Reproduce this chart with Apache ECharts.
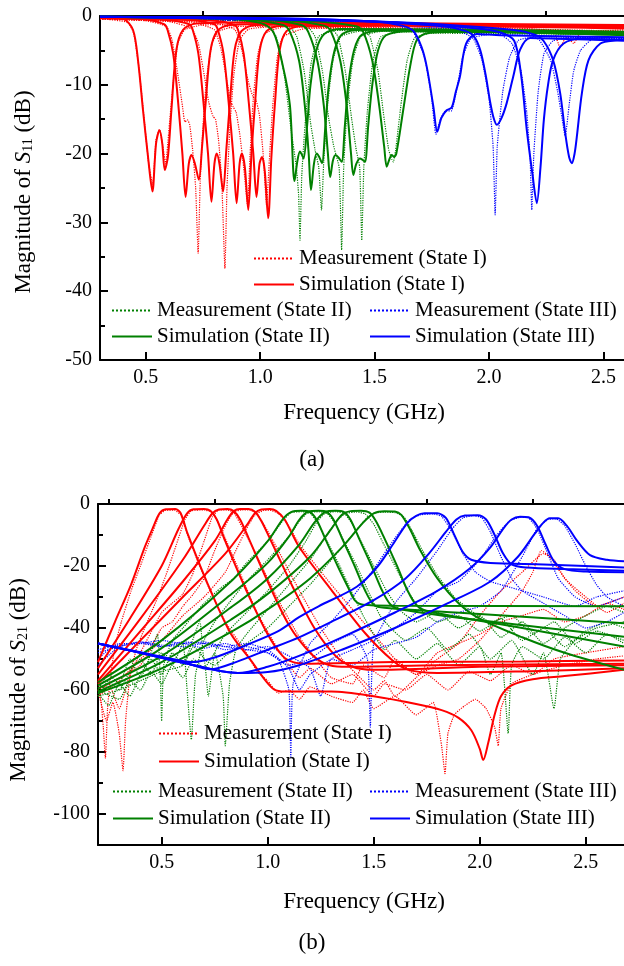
<!DOCTYPE html>
<html><head><meta charset="utf-8">
<script src="https://cdn.jsdelivr.net/npm/echarts@6/dist/echarts.min.js"></script>
<style>html,body{margin:0;padding:0;background:#fff;overflow:hidden}#c{width:624px;height:966px}</style>
</head><body><div id="c"></div>
<script>
// ---------- tick labels ----------
const xTicksTop = [0.5, 1.0, 1.5, 2.0, 2.5];
const xMinorTop = [0.75, 1.25, 1.75, 2.25];
const xTicksBot = [0.5, 1.0, 1.5, 2.0, 2.5];
const xMinorBot = [0.25, 0.75, 1.25, 1.75, 2.25];
const yTicksBot = [-100, -80, -60, -40, -20, 0];
const yMinorBot = [-90, -70, -50, -30, -10];

// ---------- (a) |S11| ----------
const s11SimI = [
 [[0.3,-0.2],[0.4,-0.4],[0.444,-2],[0.466,-6.4],[0.488,-13.7],[0.51,-20.5],[0.529,-25.5],[0.545,-18.5],[0.56,-16.6],[0.572,-18.5],[0.583,-22.4],[0.597,-20.4],[0.612,-13.7],[0.634,-4.9],[0.663,-2],[0.72,-1.1],[1.0,-0.9],[1.8,-1.1],[2.59,-1.3]],
 [[0.3,-0.3],[0.5,-0.5],[0.58,-1.2],[0.595,-2],[0.62,-5.5],[0.64,-12],[0.66,-20],[0.674,-26.3],[0.688,-21.5],[0.7,-20.2],[0.715,-21.5],[0.732,-23.8],[0.746,-19],[0.762,-12.5],[0.783,-5],[0.812,-2.2],[0.87,-1.3],[1.3,-1.1],[2.59,-1.5]],
 [[0.3,-0.3],[0.6,-0.6],[0.69,-1.2],[0.705,-2],[0.73,-5.5],[0.752,-12.5],[0.772,-20],[0.787,-27],[0.8,-21.5],[0.81,-20],[0.822,-21.5],[0.838,-25.5],[0.852,-19.5],[0.868,-12.5],[0.888,-5],[0.918,-2.2],[0.98,-1.3],[1.4,-1.2],[2.59,-1.6]],
 [[0.3,-0.3],[0.7,-0.6],[0.8,-1.2],[0.815,-2],[0.84,-5.5],[0.862,-12.5],[0.882,-20],[0.897,-27.2],[0.91,-21.5],[0.92,-20],[0.933,-22],[0.948,-28.2],[0.962,-20],[0.978,-12.5],[0.998,-5],[1.028,-2.2],[1.09,-1.4],[1.5,-1.3],[2.59,-1.7]],
 [[0.3,-0.3],[0.8,-0.7],[0.888,-1.3],[0.903,-2],[0.928,-5.5],[0.95,-12.5],[0.97,-20],[0.984,-26.3],[0.997,-21.5],[1.008,-20.5],[1.02,-22.5],[1.035,-29.4],[1.049,-20.5],[1.065,-12.5],[1.085,-5],[1.115,-2.2],[1.18,-1.5],[1.6,-1.4],[2.59,-1.8]]
];
const s11MeasI = [
 [[0.3,-0.4],[0.42,-0.9],[0.447,-2.5],[0.47,-7.5],[0.49,-14],[0.513,-21.5],[0.53,-24.5],[0.545,-18],[0.56,-16.5],[0.575,-19],[0.587,-21.5],[0.6,-17],[0.616,-11],[0.64,-4],[0.67,-2],[0.75,-1.3],[1.2,-1.2],[2.0,-1.6],[2.28,-2.2],[2.31,-4.5],[2.34,-3],[2.37,-4],[2.4,-2.5],[2.59,-2.0]],
 [[0.3,-0.4],[0.5,-0.7],[0.59,-1.5],[0.615,-3.5],[0.64,-8.5],[0.66,-13],[0.671,-15.4],[0.682,-15.1],[0.692,-15.8],[0.705,-19.5],[0.718,-25],[0.729,-34.5],[0.738,-24],[0.75,-16],[0.766,-9],[0.79,-4],[0.82,-2.2],[0.9,-1.5],[1.5,-1.5],[2.59,-2.2]],
 [[0.3,-0.4],[0.6,-0.8],[0.7,-1.8],[0.73,-4],[0.755,-8.5],[0.775,-12.5],[0.794,-14.6],[0.805,-15],[0.818,-18],[0.832,-24],[0.846,-36.7],[0.855,-25],[0.868,-16],[0.885,-8.5],[0.91,-3.5],[0.95,-1.9],[1.1,-1.5],[2.59,-2.3]],
 [[0.3,-0.4],[0.7,-0.9],[0.8,-2],[0.83,-5],[0.855,-9.5],[0.872,-12.5],[0.882,-13.2],[0.895,-14],[0.91,-17],[0.928,-22],[0.945,-27.5],[0.956,-20],[0.97,-12],[0.99,-5.5],[1.02,-2.6],[1.1,-1.6],[2.59,-2.4]],
 [[0.3,-0.4],[0.8,-1.0],[0.89,-2],[0.92,-5],[0.948,-9.5],[0.968,-11.7],[0.982,-12.2],[0.997,-14.5],[1.013,-20],[1.028,-27.5],[1.04,-21],[1.055,-13],[1.075,-6],[1.1,-3],[1.2,-1.8],[2.59,-2.5]]
];
const s11SimII = [
 [[0.3,-0.1],[0.8,-0.3],[1.0,-1.0],[1.057,-2.3],[1.1,-7.4],[1.13,-13],[1.15,-24],[1.163,-21],[1.174,-19.7],[1.183,-20.2],[1.19,-20.7],[1.205,-16],[1.22,-10],[1.245,-5],[1.28,-2.6],[1.35,-1.9],[2.0,-2.0],[2.59,-2.3]],
 [[0.3,-0.1],[0.9,-0.4],[1.1,-1.3],[1.13,-2.3],[1.17,-6.5],[1.195,-13],[1.212,-20],[1.222,-25.3],[1.235,-21.5],[1.247,-20],[1.258,-20.5],[1.27,-21.4],[1.285,-16],[1.3,-10],[1.325,-5],[1.36,-2.6],[1.45,-2],[2.59,-2.5]],
 [[0.3,-0.1],[1.0,-0.5],[1.18,-1.3],[1.21,-2.3],[1.25,-6.5],[1.278,-13],[1.296,-20],[1.306,-23.4],[1.318,-21],[1.33,-20.2],[1.343,-20.6],[1.356,-21.2],[1.37,-16],[1.385,-10],[1.41,-5],[1.445,-2.7],[1.55,-2.1],[2.59,-2.6]],
 [[0.3,-0.1],[1.1,-0.6],[1.28,-1.4],[1.31,-2.3],[1.35,-6.5],[1.378,-13],[1.397,-20],[1.407,-23.1],[1.42,-21.5],[1.436,-20.7],[1.447,-20.9],[1.458,-21.2],[1.472,-16],[1.49,-10],[1.515,-5],[1.55,-2.8],[1.65,-2.2],[2.59,-2.7]],
 [[0.3,-0.1],[1.2,-0.7],[1.42,-1.5],[1.45,-2.3],[1.49,-6.5],[1.52,-13],[1.542,-19],[1.553,-21.9],[1.565,-20.8],[1.575,-20.2],[1.585,-20.5],[1.595,-20],[1.625,-13.7],[1.655,-7.4],[1.684,-3.5],[1.73,-2.5],[1.9,-2.3],[2.59,-2.8]]
];
const s11MeasII = [
 [[0.3,-0.3],[0.9,-0.6],[1.03,-1.5],[1.07,-3],[1.105,-8.5],[1.135,-16.5],[1.158,-22],[1.168,-26],[1.174,-32.6],[1.182,-23],[1.198,-15],[1.222,-7],[1.255,-3],[1.33,-2.1],[2.59,-2.4]],
 [[0.3,-0.3],[1.0,-0.7],[1.13,-1.6],[1.16,-3],[1.192,-8],[1.22,-15.5],[1.24,-19.5],[1.256,-22],[1.268,-28.2],[1.278,-21],[1.293,-13.5],[1.318,-6.5],[1.352,-3],[1.44,-2.2],[2.59,-2.5]],
 [[0.3,-0.3],[1.05,-0.8],[1.21,-1.7],[1.24,-3],[1.272,-8],[1.3,-15],[1.322,-19],[1.345,-22],[1.356,-34],[1.365,-22],[1.38,-13.5],[1.405,-6.5],[1.44,-3],[1.54,-2.2],[2.59,-2.6]],
 [[0.3,-0.3],[1.15,-0.9],[1.31,-1.8],[1.34,-3],[1.372,-8],[1.4,-15],[1.42,-19.5],[1.435,-22],[1.444,-32.6],[1.453,-22],[1.468,-14],[1.493,-6.5],[1.528,-3],[1.63,-2.3],[2.59,-2.6]],
 [[0.3,-0.3],[1.3,-1.0],[1.45,-1.9],[1.48,-3],[1.515,-8],[1.542,-15],[1.562,-19.5],[1.575,-20.8],[1.582,-21.2],[1.592,-19.5],[1.615,-13],[1.642,-6.5],[1.675,-3.2],[1.75,-2.5],[2.59,-2.7]]
];
const s11SimIII = [
 [[0.3,-0.1],[1.0,-0.3],[1.5,-0.8],[1.62,-1.4],[1.67,-2.2],[1.705,-4.5],[1.728,-7.4],[1.757,-13.2],[1.774,-16.8],[1.792,-14.8],[1.815,-13.7],[1.837,-13.3],[1.855,-11],[1.873,-8.8],[1.9,-4],[1.947,-2.6],[2.05,-2.8],[2.59,-3.1]],
 [[0.3,-0.1],[1.3,-0.5],[1.8,-1.5],[1.9,-2.2],[1.935,-3],[1.962,-5],[1.985,-8.5],[2.005,-12.5],[2.02,-14.8],[2.034,-15.8],[2.055,-14.8],[2.077,-12.7],[2.106,-8.8],[2.136,-4.9],[2.18,-3.2],[2.3,-3.3],[2.59,-3.6]],
 [[0.3,-0.1],[1.5,-0.8],[1.95,-1.8],[2.05,-2.4],[2.11,-3.6],[2.14,-8.5],[2.165,-16.5],[2.19,-23],[2.209,-27.2],[2.225,-22],[2.24,-15],[2.258,-10],[2.28,-6.4],[2.326,-4],[2.4,-3.3],[2.59,-3.5]],
 [[0.3,-0.1],[1.6,-0.9],[2.1,-2.0],[2.2,-2.7],[2.238,-3.6],[2.28,-6.4],[2.311,-11.2],[2.333,-17],[2.35,-20.5],[2.362,-21.4],[2.374,-20],[2.384,-17.5],[2.406,-11.2],[2.435,-6.4],[2.487,-4],[2.56,-3.5],[2.59,-3.4]]
];
const s11MeasIII = [
 [[0.3,-0.3],[1.2,-0.7],[1.6,-1.4],[1.67,-2.4],[1.718,-6],[1.748,-11.5],[1.768,-17.2],[1.788,-15],[1.81,-13.8],[1.835,-13.8],[1.86,-10.5],[1.885,-6],[1.92,-3.3],[2.0,-2.7],[2.59,-3.2]],
 [[0.3,-0.3],[1.3,-0.8],[1.85,-2],[1.93,-3.2],[1.97,-6.5],[2.0,-12],[2.018,-19],[2.027,-28.9],[2.036,-19],[2.06,-11],[2.09,-6],[2.13,-3.5],[2.22,-3],[2.59,-3.3]],
 [[0.3,-0.3],[1.4,-0.9],[2.03,-2.3],[2.1,-4],[2.14,-8],[2.165,-14],[2.18,-21],[2.187,-28.2],[2.196,-20],[2.215,-11],[2.24,-5.5],[2.28,-3.6],[2.36,-3.1],[2.59,-3.3]],
 [[0.3,-0.3],[1.5,-1.0],[2.15,-2.3],[2.22,-3.5],[2.27,-6.5],[2.3,-11],[2.32,-15],[2.333,-17.5],[2.35,-13],[2.37,-8],[2.4,-5],[2.45,-3.4],[2.59,-3.1]]
];

// ---------- (b) |S21| ----------
const s21SimI = [
 [[0.2,-51],[0.28,-38],[0.356,-26],[0.42,-14],[0.46,-7.5],[0.49,-3],[0.52,-1.7],[0.565,-1.6],[0.59,-3],[0.622,-9.5],[0.716,-25.6],[0.825,-41.7],[0.919,-50.3],[0.99,-57],[1.03,-59.8],[1.08,-60.5],[1.3,-60.5],[1.5,-62],[1.7,-64.5],[1.82,-66.5],[1.9,-69],[1.96,-73],[2.0,-79],[2.016,-82.6],[2.04,-77],[2.07,-68],[2.1,-62],[2.15,-58.5],[2.25,-56.5],[2.4,-55.5],[2.68,-53.5]],
 [[0.2,-53],[0.35,-37],[0.5,-20],[0.58,-8],[0.62,-3],[0.65,-1.7],[0.7,-1.6],[0.73,-2.2],[0.76,-5],[0.8,-12],[0.9,-28],[1.0,-42],[1.07,-49],[1.12,-51],[1.2,-51.5],[1.6,-51],[2.2,-50.8],[2.68,-50.5]],
 [[0.2,-55],[0.4,-37],[0.6,-18],[0.7,-7],[0.74,-3],[0.77,-1.8],[0.81,-1.6],[0.84,-2.3],[0.87,-5],[0.91,-11],[1.0,-25],[1.1,-39],[1.2,-48],[1.27,-51.5],[1.35,-52.5],[1.8,-52],[2.68,-51.5]],
 [[0.2,-57],[0.4,-41],[0.6,-25],[0.75,-12],[0.81,-5],[0.84,-2.3],[0.87,-1.6],[0.91,-1.6],[0.94,-2.5],[0.97,-5.5],[1.02,-12.5],[1.12,-27],[1.22,-40],[1.32,-49],[1.4,-52.5],[1.5,-53.5],[2.0,-52.5],[2.68,-52]],
 [[0.2,-58],[0.4,-44],[0.6,-30],[0.8,-16],[0.9,-7],[0.94,-3],[0.97,-1.8],[1.01,-1.6],[1.04,-2.2],[1.08,-5],[1.148,-13.8],[1.3,-27.7],[1.46,-41.7],[1.586,-50.3],[1.664,-53.5],[1.8,-54.5],[2.2,-54],[2.68,-53]]
];
const s21MeasI = [
 [[0.2,-57],[0.215,-64],[0.225,-72],[0.235,-82],[0.245,-66],[0.26,-55],[0.28,-46],[0.31,-38],[0.356,-28],[0.4,-20],[0.45,-10.5],[0.49,-3.5],[0.52,-2],[0.56,-2],[0.59,-3.5],[0.625,-10.5],[0.7,-23.5],[0.8,-38],[0.9,-48],[0.95,-54],[1.0,-57],[1.05,-61],[1.1,-60],[1.15,-63],[1.2,-59],[1.3,-62],[1.4,-64],[1.45,-60],[1.5,-66],[1.6,-62],[1.7,-68],[1.78,-64],[1.82,-78],[1.836,-87],[1.85,-74],[1.88,-68],[1.93,-65],[1.98,-63],[2.03,-66],[2.07,-72],[2.087,-78],[2.1,-66],[2.15,-58],[2.25,-55],[2.4,-52],[2.55,-50],[2.68,-49]],
 [[0.2,-60],[0.24,-70],[0.27,-64],[0.3,-74],[0.318,-86],[0.33,-70],[0.35,-56],[0.38,-47],[0.42,-40],[0.47,-32],[0.52,-23],[0.57,-13],[0.61,-5],[0.64,-2.2],[0.7,-1.9],[0.74,-2.8],[0.78,-8],[0.85,-19],[0.95,-35],[1.05,-47],[1.1,-52],[1.15,-56],[1.2,-53],[1.3,-58],[1.4,-55],[1.5,-62],[1.55,-58],[1.65,-60],[1.75,-55],[1.85,-60],[1.95,-54],[2.05,-57],[2.15,-52],[2.25,-55],[2.35,-50],[2.5,-48],[2.68,-46]],
 [[0.2,-62],[0.25,-58],[0.3,-66],[0.35,-55],[0.4,-48],[0.5,-35],[0.55,-32],[0.6,-29],[0.65,-22],[0.7,-12],[0.74,-4],[0.77,-2],[0.81,-1.9],[0.84,-2.8],[0.88,-7.5],[0.95,-17],[1.05,-31],[1.15,-43],[1.25,-52],[1.3,-56],[1.4,-58],[1.45,-52],[1.55,-56],[1.6,-50],[1.7,-55],[1.8,-48],[1.9,-45],[2.0,-42],[2.1,-38],[2.2,-36],[2.3,-34],[2.4,-38],[2.5,-36],[2.6,-32],[2.68,-34]],
 [[0.2,-60],[0.3,-56],[0.4,-52],[0.5,-40],[0.55,-38],[0.6,-33],[0.65,-29],[0.7,-24],[0.75,-15],[0.8,-7],[0.84,-2.6],[0.88,-1.9],[0.92,-2],[0.95,-3.2],[0.99,-7.5],[1.05,-15],[1.15,-28],[1.25,-40],[1.35,-50],[1.45,-57],[1.5,-60],[1.55,-57],[1.6,-62],[1.7,-56],[1.8,-50],[1.9,-45],[2.0,-36],[2.1,-28],[2.2,-22],[2.3,-16],[2.35,-18],[2.4,-24],[2.5,-30],[2.6,-35],[2.68,-32]],
 [[0.2,-62],[0.3,-57],[0.4,-50],[0.5,-44],[0.6,-36],[0.7,-30],[0.8,-22],[0.85,-15],[0.9,-8],[0.94,-3.5],[0.98,-2.1],[1.01,-2],[1.05,-3],[1.09,-6],[1.15,-13],[1.3,-26],[1.45,-38],[1.55,-46],[1.6,-50],[1.7,-55],[1.8,-52],[1.9,-50],[2.0,-44],[2.1,-36],[2.2,-28],[2.25,-22],[2.29,-15],[2.33,-17],[2.38,-22],[2.45,-28],[2.55,-33],[2.68,-30]]
];
const s21SimII = [
 [[0.2,-57.5],[0.5,-44],[0.834,-24.5],[1.0,-12],[1.07,-5],[1.11,-2.6],[1.16,-2.2],[1.2,-2.6],[1.23,-5],[1.27,-11],[1.33,-20],[1.38,-27],[1.41,-31],[1.45,-32.5],[1.6,-32.8],[2.68,-33]],
 [[0.2,-58.5],[0.5,-46.5],[0.834,-28.8],[1.0,-19],[1.1,-10.5],[1.15,-5],[1.19,-2.5],[1.24,-2.2],[1.28,-2.6],[1.31,-5],[1.35,-11],[1.41,-20],[1.46,-28],[1.5,-32.5],[1.55,-33.5],[2.0,-35.5],[2.68,-38.5]],
 [[0.2,-59.5],[0.5,-49],[0.834,-33],[1.0,-24],[1.15,-13],[1.22,-6],[1.27,-2.6],[1.32,-2.2],[1.36,-2.6],[1.39,-5],[1.43,-11],[1.49,-20],[1.54,-28],[1.58,-32.5],[1.63,-34],[2.0,-37.5],[2.68,-42.8]],
 [[0.2,-60.5],[0.5,-51],[0.834,-37],[1.0,-29],[1.2,-17],[1.3,-8],[1.35,-3.5],[1.39,-2.3],[1.44,-2.2],[1.48,-2.8],[1.51,-5.5],[1.55,-11],[1.61,-20],[1.66,-28],[1.7,-32.5],[1.75,-34.5],[2.2,-40],[2.68,-46]],
 [[0.2,-61],[0.5,-53],[0.834,-41],[1.0,-34],[1.2,-24],[1.35,-14],[1.45,-6],[1.5,-3],[1.55,-2.3],[1.6,-2.4],[1.63,-3.5],[1.67,-8],[1.72,-15],[1.8,-24],[1.9,-32],[2.0,-37],[2.2,-43],[2.4,-48],[2.68,-53.5]]
];
const s21MeasII = [
 [[0.2,-60],[0.25,-55],[0.3,-58],[0.35,-50],[0.4,-56],[0.45,-48],[0.48,-42],[0.495,-58],[0.5,-70],[0.51,-52],[0.55,-44],[0.6,-40],[0.65,-36],[0.7,-32],[0.78,-27],[0.84,-24],[0.9,-19],[1.0,-12],[1.07,-5.5],[1.11,-2.8],[1.16,-2.5],[1.2,-3],[1.24,-6.5],[1.28,-12],[1.34,-20],[1.4,-29],[1.45,-36],[1.5,-42],[1.55,-47],[1.6,-44],[1.7,-50],[1.8,-45],[1.9,-52],[2.0,-46],[2.05,-55],[2.1,-48],[2.134,-74],[2.15,-52],[2.2,-46],[2.3,-50],[2.4,-43],[2.5,-48],[2.6,-42],[2.68,-45]],
 [[0.2,-62],[0.25,-57],[0.3,-60],[0.35,-54],[0.4,-50],[0.45,-55],[0.5,-48],[0.55,-52],[0.6,-45],[0.62,-60],[0.64,-76],[0.66,-55],[0.7,-44],[0.75,-38],[0.84,-30],[0.9,-25],[1.0,-18],[1.1,-10.5],[1.15,-5.5],[1.19,-2.8],[1.24,-2.5],[1.28,-3],[1.32,-6.5],[1.36,-12],[1.42,-20],[1.48,-29],[1.53,-36],[1.58,-40],[1.65,-44],[1.75,-40],[1.85,-47],[1.95,-42],[2.05,-50],[2.15,-44],[2.25,-55],[2.3,-48],[2.35,-66],[2.38,-50],[2.45,-44],[2.55,-40],[2.68,-38]],
 [[0.2,-61],[0.25,-65],[0.3,-58],[0.35,-62],[0.4,-55],[0.45,-50],[0.5,-55],[0.55,-48],[0.6,-52],[0.65,-46],[0.7,-50],[0.72,-62],[0.75,-48],[0.8,-42],[0.9,-35],[1.0,-28],[1.1,-20],[1.18,-12],[1.23,-6],[1.27,-3],[1.32,-2.5],[1.36,-3],[1.4,-6.5],[1.44,-12],[1.5,-20],[1.56,-28],[1.62,-34],[1.7,-38],[1.8,-35],[1.9,-40],[2.0,-36],[2.1,-43],[2.2,-38],[2.3,-45],[2.4,-40],[2.5,-36],[2.6,-33],[2.68,-35]],
 [[0.2,-60],[0.3,-63],[0.35,-57],[0.4,-60],[0.45,-54],[0.5,-58],[0.55,-52],[0.6,-56],[0.65,-50],[0.7,-53],[0.75,-48],[0.79,-62],[0.8,-78],[0.82,-58],[0.85,-47],[0.9,-42],[1.0,-34],[1.1,-26],[1.2,-18],[1.28,-10],[1.33,-5],[1.37,-3],[1.42,-2.6],[1.46,-3.2],[1.5,-6.5],[1.54,-12],[1.6,-20],[1.66,-28],[1.72,-34],[1.8,-38],[1.9,-36],[2.0,-41],[2.1,-37],[2.2,-44],[2.3,-40],[2.4,-46],[2.5,-41],[2.6,-38],[2.68,-40]],
 [[0.2,-62],[0.3,-60],[0.4,-57],[0.5,-54],[0.6,-52],[0.68,-38],[0.7,-50],[0.75,-52],[0.8,-49],[0.9,-45],[1.0,-40],[1.1,-33],[1.2,-26],[1.3,-18],[1.4,-10],[1.46,-5],[1.5,-3],[1.55,-2.6],[1.6,-2.8],[1.64,-4],[1.68,-8.5],[1.73,-15],[1.8,-23],[1.88,-30],[1.95,-34],[2.05,-38],[2.15,-36],[2.25,-42],[2.35,-38],[2.45,-45],[2.55,-41],[2.68,-44]]
];
const s21SimIII = [
 [[0.2,-45],[0.4,-47.8],[0.55,-50],[0.64,-51],[0.75,-49.5],[0.9,-45.5],[1.05,-41],[1.148,-36.5],[1.24,-33],[1.42,-26.7],[1.52,-20],[1.6,-12],[1.66,-6],[1.7,-3.8],[1.74,-3],[1.8,-3],[1.84,-4.5],[1.88,-10],[1.92,-15.5],[1.96,-18],[2.05,-19],[2.3,-19.5],[2.68,-20.5]],
 [[0.2,-45],[0.4,-48],[0.6,-51],[0.73,-53.3],[0.85,-51],[1.0,-47],[1.148,-43],[1.3,-38],[1.5,-31],[1.65,-24],[1.76,-16],[1.84,-9],[1.89,-5],[1.93,-3.7],[1.99,-3.6],[2.03,-5],[2.07,-10],[2.11,-16],[2.15,-19.5],[2.22,-20.5],[2.4,-21],[2.68,-21.5]],
 [[0.2,-45],[0.4,-48],[0.6,-51.2],[0.86,-54.5],[1.0,-52.5],[1.148,-49],[1.35,-43],[1.6,-35],[1.8,-28],[1.95,-21],[2.05,-14],[2.11,-8],[2.15,-5],[2.19,-4.1],[2.23,-4.3],[2.27,-7],[2.31,-13],[2.35,-18.5],[2.4,-21],[2.5,-21.8],[2.68,-22]],
 [[0.2,-45],[0.4,-48],[0.6,-51.2],[0.86,-54.5],[1.0,-54.2],[1.148,-52],[1.35,-47],[1.6,-40],[1.85,-32],[2.05,-25],[2.18,-17],[2.26,-9.5],[2.3,-6],[2.33,-4.6],[2.37,-4.6],[2.41,-7],[2.46,-12],[2.52,-16.5],[2.6,-18],[2.68,-18.5]]
];
const s21MeasIII = [
 [[0.2,-50],[0.25,-47],[0.3,-45],[0.4,-45],[0.5,-46],[0.6,-44.5],[0.7,-45],[0.8,-46],[0.9,-47],[1.0,-48],[1.05,-50],[1.1,-60],[1.109,-82],[1.12,-58],[1.2,-45],[1.3,-38],[1.4,-30],[1.5,-21],[1.6,-11],[1.67,-5],[1.72,-3.5],[1.78,-3.2],[1.82,-4],[1.87,-9],[1.92,-16],[1.98,-22],[2.05,-25],[2.15,-27],[2.3,-30],[2.45,-33],[2.55,-30],[2.68,-28]],
 [[0.2,-48],[0.3,-46],[0.4,-44.5],[0.5,-45.5],[0.6,-46],[0.7,-45],[0.8,-47],[0.9,-46],[1.0,-48],[1.1,-52],[1.2,-50],[1.3,-45],[1.4,-42],[1.47,-50],[1.484,-72],[1.5,-45],[1.6,-32],[1.7,-24],[1.8,-15],[1.87,-8],[1.92,-4.5],[1.97,-3.7],[2.01,-4.5],[2.05,-9],[2.1,-17],[2.15,-24],[2.2,-28],[2.3,-32],[2.4,-36],[2.5,-40],[2.6,-38],[2.68,-35]],
 [[0.2,-52],[0.3,-46],[0.4,-45],[0.5,-44],[0.6,-45],[0.7,-44.5],[0.8,-46],[0.9,-45],[1.0,-47],[1.1,-53],[1.15,-60],[1.2,-55],[1.3,-50],[1.4,-47],[1.5,-44],[1.6,-40],[1.7,-35],[1.8,-28],[1.9,-25],[2.0,-18],[2.08,-10],[2.14,-5.5],[2.19,-4.3],[2.23,-4.5],[2.27,-8],[2.32,-16],[2.37,-24],[2.45,-30],[2.55,-33],[2.68,-30]],
 [[0.2,-47],[0.3,-45.5],[0.4,-44.5],[0.5,-46],[0.6,-45],[0.7,-46.5],[0.8,-45],[0.9,-47],[1.0,-46],[1.1,-49],[1.2,-53],[1.25,-62],[1.3,-50],[1.4,-52],[1.5,-47],[1.6,-45],[1.7,-43],[1.8,-38],[1.9,-35],[2.0,-33],[2.1,-28],[2.2,-17],[2.27,-8],[2.32,-5],[2.36,-4.8],[2.4,-7],[2.45,-13],[2.5,-20],[2.55,-26],[2.6,-30],[2.68,-33]]
];

// ---------- chart ----------
const FONT = 'Liberation Serif';
const RED = '#ff0000', GREEN = '#008000', BLUE = '#0000ff';
const N = {
  mI: 'Measurement (State I)', sI: 'Simulation (State I)',
  mII: 'Measurement (State II)', sII: 'Simulation (State II)',
  mIII: 'Measurement (State III)', sIII: 'Simulation (State III)'
};
const series = [];
function add(curves, name, color, meas, xi, yi) {
  curves.forEach(c => series.push({
    type: 'line', name, data: c, xAxisIndex: xi, yAxisIndex: yi,
    symbol: 'none', showSymbol: false, smooth: meas ? 0.15 : 0.3,
    lineStyle: { color, width: meas ? 1.2 : 2, type: meas ? 'dotted' : 'solid' },
    itemStyle: { color }, z: meas ? 2 : 3, silent: true
  }));
}
add(s11MeasI, N.mI, RED, true, 0, 0);
add(s11MeasII, N.mII, GREEN, true, 0, 0);
add(s11MeasIII, N.mIII, BLUE, true, 0, 0);
add(s11SimI, N.sI, RED, false, 0, 0);
add(s11SimII, N.sII, GREEN, false, 0, 0);
add(s11SimIII, N.sIII, BLUE, false, 0, 0);
add(s21MeasI, N.mI, RED, true, 3, 1);
add(s21MeasII, N.mII, GREEN, true, 3, 1);
add(s21MeasIII, N.mIII, BLUE, true, 3, 1);
add(s21SimI, N.sI, RED, false, 3, 1);
add(s21SimII, N.sII, GREEN, false, 3, 1);
add(s21SimIII, N.sIII, BLUE, false, 3, 1);

const axLine = { show: true, onZero: false, lineStyle: { color: '#000', width: 2 } };
const lbl = { fontFamily: FONT, fontSize: 20, color: '#000' };
function xMajor(grid, min, max, ticks) {
  return { type: 'value', gridIndex: grid, min, max, position: 'bottom',
    axisLine: axLine, splitLine: { show: false },
    axisTick: { show: true, inside: true, length: 8, customValues: ticks, lineStyle: { color: '#000', width: 2 } },
    axisLabel: Object.assign({ customValues: ticks, margin: 8, formatter: v => v.toFixed(1) }, lbl) };
}
function xMinor(grid, min, max, ticks) {
  return { type: 'value', gridIndex: grid, min, max, position: 'bottom',
    axisLine: { show: false }, splitLine: { show: false }, axisLabel: { show: false },
    axisTick: { show: true, inside: true, length: 5, customValues: ticks, lineStyle: { color: '#000', width: 2 } } };
}
function xTop(grid, min, max) {
  return { type: 'value', gridIndex: grid, min, max, position: 'top',
    axisLine: axLine, splitLine: { show: false }, axisLabel: { show: false }, axisTick: { show: false } };
}

const legendBase = { orient: 'horizontal', itemWidth: 40, itemHeight: 14, itemGap: 0, padding: 0,
  selectedMode: false, itemStyle: { opacity: 0 },
  textStyle: { fontFamily: FONT, fontSize: 21, color: '#000' } };
function leg(name, left, cy) { return Object.assign({ data: [name], left, top: cy - 11 }, legendBase); }

const yTitle = (sub) => ({
  type: 'text', rotation: Math.PI / 2,
  style: {
    text: '{a|Magnitude of }{s|S}{b|' + sub + '}{a| (dB)}',
    rich: {
      a: { fontFamily: FONT, fontSize: 23, color: '#000' },
      s: { fontFamily: FONT, fontSize: 23, fontStyle: 'italic', color: '#000' },
      b: { fontFamily: FONT, fontSize: 14, color: '#000', padding: [9, 0, 0, 0] }
    },
    align: 'center', verticalAlign: 'middle'
  }
});
const plainText = (t, x, y) => ({ type: 'text', x, y,
  style: { text: t, fontFamily: FONT, fontSize: 23, fill: '#000', align: 'center', verticalAlign: 'middle' } });

const option = {
  animation: false,
  backgroundColor: '#fff',
  grid: [
    { left: 100, top: 16, width: 524, height: 344 },
    { left: 98, top: 504, width: 526, height: 341 }
  ],
  xAxis: [
    xMajor(0, 0.3, 2.59, xTicksTop), xMinor(0, 0.3, 2.59, xMinorTop), xTop(0, 0.3, 2.59),
    xMajor(1, 0.2, 2.68, xTicksBot), xMinor(1, 0.2, 2.68, xMinorBot), xTop(1, 0.2, 2.68)
  ],
  yAxis: [
    { type: 'value', gridIndex: 0, min: -50, max: 0, interval: 10, position: 'left',
      axisLine: axLine, splitLine: { show: false },
      axisTick: { show: true, inside: true, length: 8, lineStyle: { color: '#000', width: 2 } },
      minorTick: { show: true, splitNumber: 2, length: 5, lineStyle: { color: '#000', width: 2 } },
      axisLabel: Object.assign({ margin: 8 }, lbl) },
    { type: 'value', gridIndex: 1, min: -110, max: 0, position: 'left',
      axisLine: axLine, splitLine: { show: false },
      axisTick: { show: true, inside: true, length: 8, customValues: yTicksBot, lineStyle: { color: '#000', width: 2 } },
      axisLabel: Object.assign({ margin: 8, customValues: yTicksBot }, lbl) },
    { type: 'value', gridIndex: 1, min: -110, max: 0, position: 'left', offset: 0,
      axisLine: { show: false }, splitLine: { show: false }, axisLabel: { show: false },
      axisTick: { show: true, inside: true, length: 5, customValues: yMinorBot, lineStyle: { color: '#000', width: 2 } } }
  ],
  legend: [
    leg(N.mI, 253, 259), leg(N.sI, 253, 285),
    leg(N.mII, 111, 311), leg(N.sII, 111, 337),
    leg(N.mIII, 369, 311), leg(N.sIII, 369, 337),
    leg(N.mI, 158, 734), leg(N.sI, 158, 762),
    leg(N.mII, 112, 792), leg(N.sII, 112, 819),
    leg(N.mIII, 369, 792), leg(N.sIII, 369, 819)
  ],
  graphic: [
    Object.assign({ x: 24, y: 192 }, yTitle('11')),
    Object.assign({ x: 19, y: 680 }, yTitle('21')),
    plainText('Frequency (GHz)', 364, 413),
    plainText('Frequency (GHz)', 364, 902),
    plainText('(a)', 312, 460),
    plainText('(b)', 312, 943)
  ],
  series
};
const chart = echarts.init(document.getElementById('c'), null, { renderer: 'canvas' });
chart.setOption(option);
</script></body></html>
